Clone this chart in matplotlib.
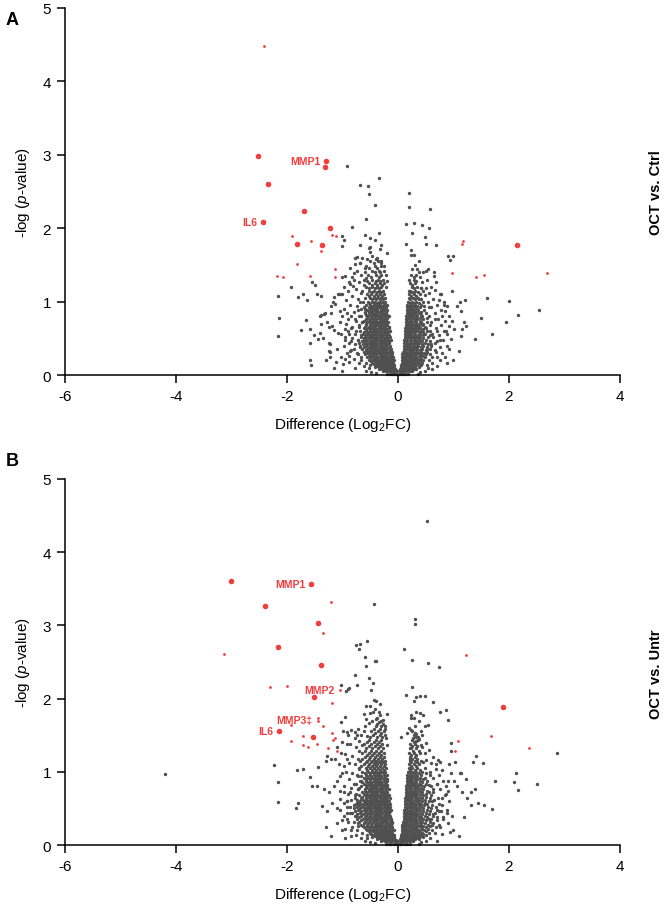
import numpy as np
import matplotlib.pyplot as plt

plt.rcParams['font.family'] = ['Liberation Sans', 'DejaVu Sans']
plt.rcParams['mathtext.fontset'] = 'custom'
plt.rcParams['mathtext.rm'] = 'Liberation Sans'
plt.rcParams['mathtext.it'] = 'Liberation Sans:italic'
plt.rcParams['mathtext.default'] = 'regular'
plt.rcParams['axes.unicode_minus'] = False

GREY = '#505050'
RED = '#f23d3d'

# ---------------- panel A : OCT vs. Ctrl ----------------
# dense core, one row per -log(p) level: (y, x values)
coreA = [
    (0.02, [-0.20, -0.15, -0.11, -0.07, -0.03, 0.01, 0.05, 0.09, 0.13, 0.18]),
    (0.05, [-0.27, -0.22, -0.17, -0.13, -0.09, -0.05, -0.01, 0.03, 0.07, 0.11, 0.16, 0.21, 0.26]),
    (0.08, [-0.34, -0.28, -0.23, -0.18, -0.14, -0.10, -0.06, 0.04, 0.08, 0.12, 0.17, 0.22, 0.28, 0.33]),
    (0.11, [-0.42, -0.35, -0.29, -0.24, -0.19, -0.15, -0.11, -0.07, 0.05, 0.09, 0.14, 0.19, 0.25, 0.31, 0.38]),
    (0.14, [-0.50, -0.41, -0.35, -0.30, -0.25, -0.20, -0.16, -0.12, -0.08, 0.06, 0.10, 0.15, 0.21, 0.27, 0.33, 0.41, 0.52]),
    (0.17, [-0.58, -0.46, -0.40, -0.34, -0.29, -0.24, -0.19, -0.14, -0.09, 0.07, 0.12, 0.17, 0.23, 0.29, 0.36, 0.44]),
    (0.20, [-0.66, -0.52, -0.45, -0.39, -0.33, -0.28, -0.22, -0.17, -0.12, -0.08, 0.07, 0.12, 0.18, 0.24, 0.30, 0.37, 0.45, 0.56]),
    (0.24, [-0.55, -0.48, -0.42, -0.36, -0.30, -0.25, -0.19, -0.14, -0.09, 0.08, 0.13, 0.19, 0.25, 0.32, 0.39, 0.48, 0.62]),
    (0.28, [-0.72, -0.59, -0.51, -0.45, -0.39, -0.33, -0.27, -0.21, -0.15, -0.10, 0.08, 0.14, 0.20, 0.26, 0.33, 0.41, 0.50]),
    (0.32, [-0.62, -0.54, -0.47, -0.41, -0.35, -0.29, -0.23, -0.17, -0.11, 0.09, 0.15, 0.21, 0.27, 0.34, 0.42, 0.53, 0.68]),
    (0.36, [-0.80, -0.65, -0.56, -0.49, -0.43, -0.37, -0.31, -0.25, -0.19, -0.13, 0.10, 0.16, 0.22, 0.28, 0.35, 0.44, 0.57]),
    (0.40, [-0.68, -0.58, -0.51, -0.45, -0.39, -0.33, -0.27, -0.21, -0.15, 0.10, 0.16, 0.22, 0.29, 0.36, 0.45, 0.60]),
    (0.44, [-0.88, -0.70, -0.60, -0.53, -0.47, -0.41, -0.35, -0.29, -0.23, -0.17, 0.11, 0.17, 0.23, 0.30, 0.38, 0.48, 0.66]),
    (0.48, [-0.72, -0.62, -0.55, -0.49, -0.43, -0.37, -0.31, -0.25, -0.19, -0.13, 0.11, 0.17, 0.24, 0.31, 0.39, 0.51, 0.75]),
    (0.52, [-0.95, -0.66, -0.57, -0.51, -0.45, -0.39, -0.33, -0.27, -0.21, -0.15, 0.12, 0.18, 0.25, 0.32, 0.40, 0.54]),
    (0.56, [-0.78, -0.63, -0.55, -0.49, -0.43, -0.37, -0.31, -0.25, -0.19, 0.12, 0.18, 0.24, 0.31, 0.39, 0.48, 0.62]),
    (0.60, [-0.68, -0.58, -0.51, -0.45, -0.39, -0.33, -0.27, -0.21, -0.15, 0.13, 0.19, 0.26, 0.33, 0.41, 0.52, 0.70]),
    (0.64, [-0.84, -0.62, -0.54, -0.47, -0.41, -0.35, -0.29, -0.23, -0.17, 0.13, 0.19, 0.25, 0.32, 0.40, 0.50]),
    (0.68, [-0.70, -0.57, -0.50, -0.44, -0.38, -0.32, -0.26, -0.20, 0.14, 0.20, 0.27, 0.34, 0.43, 0.58]),
    (0.72, [-0.64, -0.55, -0.48, -0.42, -0.36, -0.30, -0.24, -0.18, 0.14, 0.20, 0.26, 0.33, 0.41, 0.52]),
    (0.76, [-0.78, -0.58, -0.51, -0.45, -0.39, -0.33, -0.27, -0.21, 0.15, 0.21, 0.28, 0.35, 0.46, 0.66]),
    (0.80, [-0.66, -0.54, -0.47, -0.41, -0.35, -0.29, -0.23, -0.17, 0.15, 0.21, 0.27, 0.35, 0.44]),
    (0.84, [-0.60, -0.52, -0.45, -0.39, -0.33, -0.27, -0.21, 0.16, 0.22, 0.29, 0.37, 0.50]),
    (0.88, [-0.72, -0.56, -0.49, -0.43, -0.37, -0.31, -0.25, -0.19, 0.16, 0.22, 0.28, 0.36, 0.47]),
    (0.92, [-0.62, -0.53, -0.46, -0.40, -0.34, -0.28, -0.22, 0.17, 0.23, 0.30, 0.39, 0.56]),
    (0.96, [-0.57, -0.50, -0.44, -0.38, -0.32, -0.26, -0.20, 0.17, 0.24, 0.31, 0.42]),
    (1.00, [-0.68, -0.54, -0.47, -0.41, -0.35, -0.29, -0.23, 0.18, 0.25, 0.33, 0.45]),
    (1.05, [-0.60, -0.51, -0.44, -0.37, -0.30, -0.24, 0.19, 0.27, 0.36]),
    (1.10, [-0.56, -0.48, -0.40, -0.33, -0.26, 0.20, 0.29, 0.40]),
    (1.15, [-0.64, -0.52, -0.43, -0.35, -0.27, 0.22, 0.31]),
    (1.20, [-0.58, -0.47, -0.38, -0.30, -0.22, 0.25, 0.35]),
    (1.25, [-0.52, -0.42, -0.33, -0.25, 0.21, 0.30]),
    (1.30, [-0.61, -0.46, -0.36, -0.27, 0.28]),
    (1.36, [-0.54, -0.40, -0.30, 0.24, 0.33]),
    (1.42, [-0.47, -0.35, -0.26]),
    (1.48, [-0.58, -0.41, -0.31]),
    (1.55, [-0.50, -0.36]),
]
# in-between rows that fill the darkest part of the core
fillA = [
    (0.065, [-0.25, -0.20, -0.16, -0.12, -0.08, -0.04, 0.05, 0.09, 0.14, 0.19, 0.24]),
    (0.095, [-0.31, -0.26, -0.21, -0.16, -0.12, -0.08, 0.06, 0.10, 0.15, 0.20, 0.26]),
    (0.125, [-0.38, -0.32, -0.27, -0.22, -0.17, -0.13, -0.09, 0.07, 0.12, 0.17, 0.23, 0.29]),
    (0.155, [-0.44, -0.37, -0.32, -0.27, -0.22, -0.18, -0.14, -0.10, 0.08, 0.13, 0.18, 0.24, 0.30, 0.37]),
    (0.185, [-0.48, -0.42, -0.37, -0.31, -0.26, -0.21, -0.16, -0.11, 0.09, 0.14, 0.20, 0.26, 0.33, 0.40]),
    (0.22, [-0.50, -0.43, -0.37, -0.31, -0.25, -0.20, -0.14, -0.10, 0.10, 0.15, 0.21, 0.28, 0.35, 0.42]),
    (0.26, [-0.52, -0.45, -0.39, -0.33, -0.28, -0.23, -0.17, -0.12, 0.11, 0.17, 0.23, 0.29, 0.37, 0.45]),
    (0.30, [-0.55, -0.48, -0.42, -0.36, -0.30, -0.25, -0.19, -0.13, 0.12, 0.18, 0.24, 0.31, 0.38, 0.47]),
    (0.34, [-0.58, -0.51, -0.44, -0.38, -0.32, -0.27, -0.21, -0.15, 0.12, 0.19, 0.25, 0.32, 0.40, 0.50]),
    (0.38, [-0.61, -0.53, -0.47, -0.41, -0.35, -0.29, -0.23, -0.17, 0.13, 0.19, 0.26, 0.33, 0.41, 0.52]),
    (0.42, [-0.63, -0.55, -0.49, -0.43, -0.37, -0.31, -0.25, -0.19, 0.14, 0.20, 0.27, 0.34, 0.43, 0.55]),
    (0.46, [-0.65, -0.58, -0.51, -0.45, -0.39, -0.33, -0.27, -0.21, -0.16, 0.14, 0.21, 0.28, 0.35, 0.44, 0.57]),
    (0.50, [-0.62, -0.54, -0.48, -0.42, -0.36, -0.30, -0.24, -0.18, 0.15, 0.21, 0.28, 0.36, 0.46]),
    (0.54, [-0.60, -0.53, -0.46, -0.40, -0.34, -0.28, -0.22, -0.16, 0.15, 0.22, 0.28, 0.36, 0.45, 0.57]),
    (0.58, [-0.62, -0.54, -0.48, -0.42, -0.36, -0.30, -0.24, -0.18, 0.16, 0.22, 0.29, 0.37, 0.46]),
    (0.62, [-0.58, -0.50, -0.44, -0.38, -0.32, -0.26, -0.20, 0.16, 0.22, 0.29, 0.36, 0.45]),
    (0.66, [-0.60, -0.53, -0.47, -0.41, -0.35, -0.29, -0.23, -0.17, 0.17, 0.23, 0.30, 0.38, 0.48]),
    (0.70, [-0.58, -0.51, -0.45, -0.39, -0.33, -0.27, -0.21, 0.17, 0.23, 0.30, 0.37, 0.46]),
    (0.74, [-0.61, -0.52, -0.45, -0.39, -0.33, -0.27, -0.21, 0.17, 0.24, 0.31, 0.39]),
    (0.78, [-0.55, -0.48, -0.42, -0.36, -0.30, -0.24, -0.19, 0.18, 0.24, 0.31, 0.40, 0.53]),
    (0.82, [-0.57, -0.49, -0.43, -0.37, -0.31, -0.25, -0.19, 0.18, 0.25, 0.32, 0.41]),
    (0.86, [-0.53, -0.46, -0.40, -0.34, -0.28, -0.22, 0.19, 0.25, 0.33, 0.42]),
    (0.90, [-0.59, -0.50, -0.43, -0.37, -0.31, -0.25, 0.19, 0.26, 0.34]),
    (0.94, [-0.48, -0.41, -0.35, -0.29, -0.23, 0.20, 0.27, 0.35, 0.47]),
    (0.98, [-0.52, -0.44, -0.38, -0.32, -0.26, 0.21, 0.28, 0.38]),
    (1.03, [-0.47, -0.40, -0.33, -0.27, 0.22, 0.30, 0.41]),
    (1.08, [-0.52, -0.44, -0.36, -0.29, 0.23, 0.33]),
    (1.13, [-0.46, -0.38, -0.31, 0.25, 0.36]),
    (1.18, [-0.53, -0.42, -0.34, 0.28, 0.42]),
    (1.23, [-0.46, -0.37, -0.29, 0.26]),
    (1.28, [-0.55, -0.40, -0.32, 0.33]),
    (1.33, [-0.49, -0.35, 0.29]),
    (1.40, [-0.60, -0.42, -0.32, 0.38]),
    (1.46, [-0.52, -0.37]),
    (1.52, [-0.44, -0.30]),
    (1.58, [-0.40]),
]
# looser points on the flanks of the two lobes
flankA = [
    (-0.62, 0.12), (-0.70, 0.16), (-0.78, 0.10), (-0.66, 0.25), (-0.80, 0.22), (-0.88, 0.18),
    (-0.74, 0.30), (-0.84, 0.34), (-0.68, 0.38), (-0.77, 0.42), (-0.92, 0.30), (-0.72, 0.47),
    (-0.82, 0.50), (-0.66, 0.54), (-0.88, 0.56), (-0.75, 0.60), (-0.70, 0.66), (-0.82, 0.66),
    (-0.64, 0.72), (-0.76, 0.74), (-0.90, 0.76), (-0.70, 0.80), (-0.80, 0.86), (-0.66, 0.90),
    (-0.74, 0.94), (-0.86, 0.96), (-0.63, 0.99), (-0.72, 1.04), (-0.82, 1.08), (-0.66, 1.12),
    (-0.75, 1.17), (-0.90, 1.14), (-0.62, 1.22), (-0.70, 1.27), (-0.80, 1.30), (-0.66, 1.36),
    (-0.74, 1.42), (-0.60, 1.46), (-0.68, 1.52), (-0.56, 1.58), (-0.46, 1.62), (-0.38, 1.60),
    (-0.30, 1.55), (-0.25, 1.48), (-0.22, 1.36), (-0.20, 1.28), (-0.58, 0.06), (-0.48, 0.04),
    (-0.40, 0.03), (-0.52, 0.09), (-0.95, 0.62), (-0.98, 0.90), (-0.93, 1.02), (-0.84, 0.46),
    (-0.60, 0.86), (-0.58, 1.32), (-0.86, 1.46), (-0.97, 1.20),
    (0.55, 0.10), (0.62, 0.16), (0.70, 0.24), (0.58, 0.28), (0.66, 0.34), (0.76, 0.38),
    (0.60, 0.42), (0.70, 0.46), (0.82, 0.48), (0.64, 0.52), (0.74, 0.55), (0.58, 0.60),
    (0.68, 0.64), (0.78, 0.68), (0.60, 0.72), (0.72, 0.76), (0.84, 0.74), (0.56, 0.80),
    (0.66, 0.84), (0.78, 0.88), (0.60, 0.92), (0.70, 0.96), (0.54, 1.00), (0.64, 1.04),
    (0.56, 1.12), (0.46, 1.14), (0.60, 1.20), (0.44, 1.26), (0.52, 1.30), (0.40, 1.34),
    (0.46, 1.40), (0.35, 1.45), (0.30, 1.50), (0.38, 1.55), (0.25, 1.44), (0.20, 1.30),
    (0.20, 1.15), (0.48, 0.06), (0.40, 0.04), (0.36, 0.02), (0.86, 0.60), (0.80, 0.80),
    (0.74, 1.02), (0.66, 1.16), (0.52, 0.36), (0.88, 0.16), (0.92, 0.36),
]
# scattered grey points outside the core
greyA = [
    (-0.92, 2.85), (-0.34, 2.69), (-0.69, 2.59), (-0.54, 2.57), (-0.53, 2.46), (0.20, 2.48),
    (0.20, 2.29), (-0.41, 2.31), (0.57, 2.26), (-0.57, 2.13), (-0.83, 2.01), (0.14, 2.06),
    (0.28, 2.07), (0.44, 2.05), (0.56, 2.00), (-0.35, 1.94), (-0.60, 1.91), (0.26, 1.93),
    (-1.00, 1.89), (-0.97, 1.84), (-0.50, 1.87), (-0.42, 1.84), (0.49, 1.88), (0.50, 1.79),
    (-0.68, 1.77), (-0.50, 1.75), (0.14, 1.78), (0.69, 1.77), (-0.30, 1.77), (-0.33, 1.72),
    (0.23, 1.70), (0.23, 1.64), (0.29, 1.64), (-0.19, 1.66), (-0.52, 1.73), (-0.50, 1.68),
    (0.90, 1.62), (0.93, 1.57), (-1.00, 1.76),
    (-1.55, 1.27), (-1.49, 1.22), (-1.92, 1.20), (-2.17, 1.08), (-1.81, 1.06), (-1.71, 1.10),
    (-1.64, 1.02), (-1.46, 1.10), (-1.38, 1.08), (-2.14, 0.77), (-1.65, 0.75), (-1.40, 0.80),
    (-1.33, 0.83), (-1.38, 0.70), (-1.74, 0.61), (-1.58, 0.63), (-1.51, 0.55), (-1.44, 0.49),
    (-2.17, 0.53), (-1.58, 0.44), (-1.25, 0.65), (-1.25, 0.43), (-1.23, 0.31), (-1.58, 0.21),
    (-1.20, 0.94), (-1.17, 1.00), (-1.13, 0.97), (-1.16, 1.06), (-1.08, 1.10), (-1.04, 1.10),
    (-1.00, 1.11), (-1.00, 1.33), (-0.96, 1.35), (-0.89, 1.26), (-0.86, 1.24), (-0.81, 1.21),
    (-0.83, 1.34), (-0.80, 1.39), (-0.78, 1.59), (-0.73, 1.61), (-0.65, 1.60), (-0.77, 1.51),
    (-0.69, 1.53), (-1.38, 0.82), (-1.31, 0.84), (-1.20, 0.84), (-1.05, 0.87), (-1.01, 0.81),
    (-0.92, 0.84), (-0.84, 0.81), (-1.28, 0.72), (-1.19, 0.67), (-1.16, 0.61), (-1.08, 0.57),
    (-1.41, 0.57), (-1.35, 0.50), (-1.22, 0.42), (-1.25, 0.33), (-1.23, 0.24), (-0.99, 0.15),
    (-0.95, 0.22), (-0.89, 0.26), (-0.86, 0.33), (-1.03, 0.56), (-0.95, 0.48), (-0.90, 0.60),
    (-1.10, 0.35), (-1.05, 0.72), (-0.93, 0.70), (-0.97, 0.40), (-1.12, 0.18), (-1.00, 0.06),
    (-1.56, 0.14), (-1.30, 0.20), (-1.15, 0.10), (-1.02, 0.25),
    (0.99, 1.62), (0.98, 1.15), (1.11, 1.00), (1.20, 1.02), (1.07, 0.94), (1.60, 1.05),
    (2.00, 1.01), (2.54, 0.89), (2.17, 0.82), (1.49, 0.77), (1.94, 0.72), (1.70, 0.56),
    (1.38, 0.49), (1.13, 0.87), (1.19, 0.72), (1.23, 0.67), (1.16, 0.62), (1.13, 0.53),
    (1.10, 0.33), (0.89, 0.94), (0.83, 0.99), (0.84, 0.87), (0.92, 0.81), (0.98, 0.74),
    (0.92, 0.67), (0.83, 0.60), (0.89, 0.56), (0.95, 0.49), (0.89, 0.40), (1.01, 0.62),
    (0.69, 1.26), (0.75, 1.11), (0.78, 1.10), (0.83, 0.96), (0.65, 1.40), (0.65, 1.35),
    (0.55, 1.44), (0.51, 1.42), (0.48, 1.09), (0.51, 1.19), (0.42, 1.18), (0.38, 1.03),
    (0.80, 0.30), (0.75, 0.20), (0.70, 0.12), (0.85, 0.25), (1.00, 0.20), (0.62, 0.08),
]
redA_big = [(-2.52, 2.98), (-1.29, 2.92), (-1.32, 2.84), (-2.34, 2.60), (-1.69, 2.24),
            (-2.44, 2.09), (-1.22, 2.00), (-1.82, 1.78), (-1.37, 1.77), (2.15, 1.77)]
redA_small = [(-2.42, 4.48), (-1.91, 1.90), (-1.56, 1.82), (-1.19, 1.91), (-1.12, 1.89),
              (-1.38, 1.69), (-1.82, 1.51), (-2.18, 1.35), (-2.08, 1.33), (-1.58, 1.35),
              (-1.13, 1.44), (-1.13, 1.34), (1.17, 1.83), (1.16, 1.79), (0.98, 1.39),
              (1.40, 1.34), (1.55, 1.36), (2.68, 1.39)]
labelsA = [('MMP1', -1.29, 2.92), ('IL6', -2.44, 2.09)]

# ---------------- panel B : OCT vs. Untr ----------------
coreB = [
    (0.02, [-0.22, -0.17, -0.12, -0.08, -0.04, 0.00, 0.04, 0.08, 0.12, 0.17, 0.22]),
    (0.05, [-0.30, -0.24, -0.19, -0.14, -0.10, -0.06, -0.02, 0.03, 0.07, 0.11, 0.16, 0.21, 0.27]),
    (0.08, [-0.38, -0.31, -0.25, -0.20, -0.15, -0.11, -0.07, 0.04, 0.08, 0.13, 0.18, 0.24, 0.30, 0.37]),
    (0.11, [-0.46, -0.38, -0.31, -0.26, -0.21, -0.16, -0.12, -0.08, 0.05, 0.09, 0.14, 0.19, 0.25, 0.31, 0.38, 0.46]),
    (0.14, [-0.55, -0.45, -0.37, -0.31, -0.26, -0.21, -0.16, -0.12, -0.08, 0.06, 0.10, 0.15, 0.21, 0.27, 0.33, 0.40, 0.50]),
    (0.17, [-0.64, -0.50, -0.42, -0.36, -0.30, -0.25, -0.20, -0.15, -0.10, 0.07, 0.12, 0.17, 0.23, 0.29, 0.36, 0.44, 0.56]),
    (0.20, [-0.74, -0.56, -0.47, -0.40, -0.34, -0.28, -0.23, -0.18, -0.13, -0.08, 0.07, 0.12, 0.18, 0.24, 0.31, 0.38, 0.47, 0.62]),
    (0.24, [-0.82, -0.61, -0.52, -0.45, -0.38, -0.32, -0.26, -0.21, -0.15, -0.10, 0.08, 0.13, 0.19, 0.26, 0.33, 0.41, 0.51, 0.68]),
    (0.28, [-0.66, -0.56, -0.49, -0.42, -0.36, -0.30, -0.24, -0.18, -0.12, 0.08, 0.14, 0.20, 0.27, 0.34, 0.42, 0.54, 0.74]),
    (0.32, [-0.90, -0.70, -0.60, -0.52, -0.45, -0.39, -0.33, -0.27, -0.21, -0.15, -0.10, 0.09, 0.15, 0.21, 0.28, 0.35, 0.44, 0.57]),
    (0.36, [-0.74, -0.63, -0.55, -0.48, -0.42, -0.36, -0.30, -0.24, -0.18, -0.12, 0.10, 0.16, 0.22, 0.29, 0.37, 0.46, 0.60, 0.82]),
    (0.40, [-0.98, -0.78, -0.66, -0.58, -0.51, -0.44, -0.38, -0.32, -0.26, -0.20, -0.14, 0.10, 0.16, 0.23, 0.30, 0.38, 0.48, 0.63]),
    (0.44, [-0.82, -0.69, -0.60, -0.53, -0.46, -0.40, -0.34, -0.28, -0.22, -0.16, 0.11, 0.17, 0.24, 0.31, 0.39, 0.50, 0.66, 0.88]),
    (0.48, [-1.05, -0.72, -0.62, -0.55, -0.48, -0.42, -0.36, -0.30, -0.24, -0.18, -0.12, 0.11, 0.17, 0.24, 0.32, 0.40, 0.52, 0.70]),
    (0.52, [-0.86, -0.74, -0.64, -0.56, -0.50, -0.44, -0.38, -0.32, -0.26, -0.20, -0.14, 0.12, 0.18, 0.25, 0.33, 0.42, 0.55]),
    (0.56, [-0.76, -0.66, -0.58, -0.51, -0.45, -0.39, -0.33, -0.27, -0.21, -0.15, 0.12, 0.18, 0.25, 0.33, 0.42, 0.53, 0.74]),
    (0.60, [-0.92, -0.68, -0.59, -0.52, -0.46, -0.40, -0.34, -0.28, -0.22, -0.16, 0.13, 0.19, 0.26, 0.34, 0.43, 0.56]),
    (0.64, [-0.78, -0.66, -0.58, -0.51, -0.45, -0.39, -0.33, -0.27, -0.21, -0.15, 0.13, 0.19, 0.26, 0.34, 0.44, 0.58, 0.80]),
    (0.68, [-0.70, -0.60, -0.53, -0.47, -0.41, -0.35, -0.29, -0.23, -0.17, 0.14, 0.20, 0.27, 0.35, 0.45, 0.60]),
    (0.72, [-0.86, -0.64, -0.56, -0.49, -0.43, -0.37, -0.31, -0.25, -0.19, 0.14, 0.20, 0.27, 0.35, 0.44, 0.56]),
    (0.76, [-0.72, -0.59, -0.52, -0.46, -0.40, -0.34, -0.28, -0.22, -0.16, 0.15, 0.21, 0.28, 0.36, 0.46, 0.64]),
    (0.80, [-0.66, -0.56, -0.49, -0.43, -0.37, -0.31, -0.25, -0.19, 0.15, 0.21, 0.28, 0.36, 0.47]),
    (0.84, [-0.80, -0.61, -0.53, -0.46, -0.40, -0.34, -0.28, -0.22, 0.16, 0.22, 0.29, 0.38, 0.50, 0.70]),
    (0.88, [-0.68, -0.57, -0.50, -0.44, -0.38, -0.32, -0.26, -0.20, 0.16, 0.22, 0.30, 0.39, 0.52]),
    (0.92, [-0.62, -0.54, -0.47, -0.41, -0.35, -0.29, -0.23, 0.17, 0.23, 0.30, 0.39, 0.49]),
    (0.96, [-0.74, -0.58, -0.50, -0.44, -0.38, -0.32, -0.26, -0.20, 0.17, 0.24, 0.32, 0.42, 0.58]),
    (1.00, [-0.64, -0.54, -0.47, -0.41, -0.35, -0.29, -0.23, 0.18, 0.25, 0.33, 0.44]),
    (1.05, [-0.70, -0.58, -0.50, -0.43, -0.36, -0.29, -0.22, 0.19, 0.26, 0.35, 0.48]),
    (1.10, [-0.62, -0.52, -0.44, -0.37, -0.30, -0.23, 0.20, 0.28, 0.38]),
    (1.15, [-0.68, -0.56, -0.47, -0.39, -0.31, -0.24, 0.21, 0.30, 0.42]),
    (1.20, [-0.60, -0.50, -0.41, -0.33, -0.25, 0.22, 0.31]),
    (1.26, [-0.65, -0.53, -0.43, -0.34, -0.26, 0.20, 0.29, 0.40]),
    (1.32, [-0.57, -0.46, -0.36, -0.27, 0.24, 0.33]),
    (1.38, [-0.61, -0.48, -0.38, -0.29, 0.22, 0.31]),
    (1.44, [-0.52, -0.40, -0.30, 0.26, 0.36]),
    (1.50, [-0.45, -0.33, -0.24, 0.28]),
    (1.56, [-0.48, -0.36, -0.25, 0.25]),
    (1.62, [-0.40, -0.30]),
    (1.68, [-0.34]),
]
fillB = [
    (0.065, [-0.27, -0.21, -0.17, -0.12, -0.08, -0.04, 0.05, 0.09, 0.14, 0.19, 0.25]),
    (0.095, [-0.34, -0.28, -0.22, -0.17, -0.13, -0.09, 0.06, 0.10, 0.16, 0.21, 0.27, 0.33]),
    (0.125, [-0.42, -0.34, -0.28, -0.23, -0.18, -0.14, -0.10, 0.07, 0.12, 0.17, 0.22, 0.28, 0.35, 0.42]),
    (0.155, [-0.48, -0.40, -0.34, -0.28, -0.23, -0.18, -0.14, -0.10, 0.08, 0.13, 0.18, 0.24, 0.30, 0.37, 0.45]),
    (0.185, [-0.53, -0.45, -0.39, -0.33, -0.27, -0.22, -0.17, -0.12, 0.09, 0.14, 0.20, 0.26, 0.33, 0.40, 0.50]),
    (0.22, [-0.58, -0.50, -0.43, -0.37, -0.31, -0.25, -0.20, -0.15, -0.11, 0.10, 0.15, 0.21, 0.28, 0.35, 0.43, 0.54]),
    (0.26, [-0.63, -0.55, -0.48, -0.41, -0.35, -0.29, -0.23, -0.18, -0.13, 0.11, 0.16, 0.22, 0.29, 0.37, 0.46, 0.58]),
    (0.30, [-0.72, -0.62, -0.54, -0.47, -0.40, -0.34, -0.28, -0.22, -0.16, -0.11, 0.11, 0.17, 0.24, 0.31, 0.39, 0.48, 0.63]),
    (0.34, [-0.66, -0.57, -0.50, -0.43, -0.37, -0.31, -0.25, -0.19, -0.13, 0.12, 0.18, 0.25, 0.32, 0.40, 0.50]),
    (0.38, [-0.70, -0.60, -0.52, -0.45, -0.39, -0.33, -0.27, -0.21, -0.15, 0.13, 0.19, 0.26, 0.33, 0.42, 0.53, 0.70]),
    (0.42, [-0.73, -0.63, -0.55, -0.48, -0.42, -0.36, -0.30, -0.24, -0.18, 0.13, 0.19, 0.27, 0.34, 0.43, 0.56]),
    (0.46, [-0.77, -0.66, -0.57, -0.50, -0.44, -0.38, -0.32, -0.26, -0.20, -0.14, 0.14, 0.20, 0.27, 0.35, 0.45, 0.58, 0.78]),
    (0.50, [-0.68, -0.59, -0.52, -0.46, -0.40, -0.34, -0.28, -0.22, -0.16, 0.14, 0.21, 0.28, 0.36, 0.46, 0.60]),
    (0.54, [-0.80, -0.70, -0.61, -0.54, -0.48, -0.42, -0.36, -0.30, -0.24, -0.18, 0.15, 0.21, 0.29, 0.37, 0.47, 0.62]),
    (0.58, [-0.72, -0.62, -0.55, -0.49, -0.43, -0.37, -0.31, -0.25, -0.19, 0.15, 0.22, 0.29, 0.37, 0.48]),
    (0.62, [-0.73, -0.63, -0.56, -0.49, -0.43, -0.37, -0.31, -0.25, -0.19, 0.16, 0.22, 0.30, 0.38, 0.49, 0.65]),
    (0.66, [-0.64, -0.56, -0.50, -0.44, -0.38, -0.32, -0.26, -0.20, 0.16, 0.23, 0.30, 0.39, 0.50]),
    (0.70, [-0.76, -0.62, -0.55, -0.49, -0.43, -0.37, -0.31, -0.25, -0.19, 0.17, 0.23, 0.31, 0.39, 0.50]),
    (0.74, [-0.60, -0.53, -0.47, -0.41, -0.35, -0.29, -0.23, 0.17, 0.24, 0.31, 0.40, 0.52]),
    (0.78, [-0.70, -0.58, -0.51, -0.45, -0.39, -0.33, -0.27, -0.21, 0.18, 0.24, 0.32, 0.41]),
    (0.82, [-0.57, -0.50, -0.44, -0.38, -0.32, -0.26, -0.20, 0.18, 0.25, 0.32, 0.42, 0.56]),
    (0.86, [-0.64, -0.55, -0.48, -0.42, -0.36, -0.30, -0.24, 0.19, 0.25, 0.33, 0.43]),
    (0.90, [-0.58, -0.51, -0.44, -0.38, -0.32, -0.26, -0.20, 0.19, 0.26, 0.34, 0.45]),
    (0.94, [-0.66, -0.55, -0.48, -0.42, -0.36, -0.30, -0.24, 0.20, 0.27, 0.35]),
    (0.98, [-0.60, -0.51, -0.44, -0.38, -0.32, -0.26, 0.21, 0.28, 0.37, 0.50]),
    (1.03, [-0.55, -0.47, -0.40, -0.33, -0.26, 0.22, 0.30, 0.40]),
    (1.08, [-0.66, -0.54, -0.46, -0.39, -0.32, -0.25, 0.23, 0.32]),
    (1.13, [-0.58, -0.49, -0.41, -0.34, -0.27, 0.24, 0.34, 0.46]),
    (1.18, [-0.64, -0.53, -0.44, -0.36, -0.28, 0.26, 0.35]),
    (1.23, [-0.56, -0.47, -0.38, -0.30, 0.24, 0.33]),
    (1.29, [-0.60, -0.49, -0.39, -0.31, 0.27, 0.37]),
    (1.35, [-0.52, -0.42, -0.33, 0.26, 0.35]),
    (1.41, [-0.56, -0.44, -0.34, 0.29]),
    (1.47, [-0.50, -0.38, -0.28, 0.32]),
    (1.53, [-0.42, -0.31, 0.30]),
    (1.59, [-0.44, -0.33]),
    (1.65, [-0.37, -0.27]),
    (1.72, [-0.40]),
]
flankB = [
    (-0.66, 0.10), (-0.75, 0.14), (-0.85, 0.12), (-0.72, 0.26), (-0.84, 0.20), (-0.95, 0.22),
    (-0.80, 0.32), (-0.92, 0.36), (-0.76, 0.40), (-0.86, 0.44), (-1.00, 0.34), (-0.80, 0.50),
    (-0.92, 0.52), (-0.74, 0.58), (-0.98, 0.58), (-0.84, 0.62), (-0.78, 0.68), (-0.90, 0.70),
    (-0.72, 0.76), (-0.84, 0.78), (-0.98, 0.80), (-0.76, 0.84), (-0.88, 0.90), (-0.72, 0.94),
    (-0.82, 0.98), (-0.94, 1.00), (-0.70, 1.04), (-0.78, 1.10), (-0.88, 1.12), (-0.72, 1.18),
    (-0.82, 1.22), (-0.96, 1.24), (-0.70, 1.28), (-0.76, 1.34), (-0.86, 1.38), (-0.70, 1.42),
    (-0.78, 1.46), (-0.66, 1.50), (-0.72, 1.58), (-0.60, 1.62), (-0.52, 1.66), (-0.46, 1.70),
    (-0.38, 1.74), (-0.30, 1.70), (-0.24, 1.58), (-0.21, 1.46), (-0.20, 1.36), (-0.60, 0.06),
    (-0.50, 0.04), (-0.42, 0.03), (-0.55, 0.09), (-1.04, 0.74), (-1.05, 0.94), (-1.02, 1.26),
    (-0.92, 0.60), (-0.66, 0.88), (-0.64, 1.36), (-0.90, 1.50), (-0.58, 1.72), (-0.50, 1.80),
    (-0.42, 1.86), (-0.34, 1.82),
    (0.58, 0.10), (0.66, 0.16), (0.76, 0.24), (0.62, 0.28), (0.70, 0.34), (0.82, 0.38),
    (0.64, 0.42), (0.74, 0.46), (0.88, 0.48), (0.68, 0.52), (0.80, 0.55), (0.62, 0.60),
    (0.72, 0.64), (0.84, 0.68), (0.64, 0.72), (0.76, 0.76), (0.90, 0.74), (0.60, 0.80),
    (0.70, 0.84), (0.82, 0.88), (0.64, 0.92), (0.74, 0.96), (0.58, 1.00), (0.68, 1.04),
    (0.60, 1.12), (0.50, 1.16), (0.64, 1.20), (0.48, 1.26), (0.56, 1.30), (0.44, 1.34),
    (0.50, 1.40), (0.38, 1.45), (0.33, 1.52), (0.42, 1.56), (0.27, 1.46), (0.22, 1.32),
    (0.22, 1.18), (0.50, 0.06), (0.42, 0.04), (0.38, 0.02), (0.92, 0.60), (0.86, 0.80),
    (0.80, 1.02), (0.72, 1.16), (0.56, 0.36), (0.94, 0.18), (0.98, 0.40), (0.30, 1.62),
    (0.20, 1.60), (0.48, 1.62),
]
greyB = [
    (0.52, 4.43), (-0.44, 3.29), (0.30, 3.09), (0.30, 3.02), (-0.75, 2.73), (-0.69, 2.74),
    (-0.71, 2.68), (-0.56, 2.79), (0.10, 2.68), (-0.60, 2.57), (-0.42, 2.51), (-0.39, 2.51),
    (0.26, 2.52), (0.55, 2.48), (0.74, 2.43), (-0.57, 2.44), (-0.77, 2.32), (-0.53, 2.28),
    (-0.45, 2.21), (-0.74, 2.18), (-1.02, 2.19), (-0.90, 2.13), (-0.93, 2.11), (-0.89, 2.15),
    (-0.48, 2.12), (0.26, 2.16), (0.15, 2.05), (0.32, 2.02), (0.39, 2.03), (0.48, 2.03),
    (0.28, 1.96), (0.63, 1.95), (-0.44, 1.98), (-0.40, 1.97), (-0.57, 1.90), (-0.51, 1.90),
    (-0.32, 1.92), (0.75, 1.82), (0.86, 1.85), (0.90, 1.71), (-0.95, 1.75), (-1.02, 1.68),
    (-0.62, 1.79), (-0.45, 1.81), (-0.32, 1.78), (-0.19, 1.79), (-0.27, 1.71), (-0.23, 1.63),
    (0.24, 1.77), (0.32, 1.81), (0.39, 1.80), (0.45, 1.77), (0.38, 1.69), (0.28, 1.73),
    (0.23, 1.74), (0.54, 1.64), (-0.84, 1.57), (-0.77, 1.55), (-0.74, 1.50), (-0.62, 1.56),
    (-0.55, 1.49), (0.06, 1.47), (0.17, 1.53), (0.23, 1.57), (0.36, 1.48), (0.44, 1.50),
    (0.41, 1.36), (0.33, 1.42), (0.95, 1.39), (0.96, 1.28), (1.02, 1.13), (0.92, 1.11),
    (1.14, 0.99), (0.75, 1.14), (0.68, 1.10), (1.35, 1.14), (1.40, 1.21), (1.54, 1.12),
    (2.12, 0.99), (2.09, 0.86), (2.16, 0.75), (1.75, 0.88), (2.51, 0.83), (2.86, 1.25),
    (1.38, 0.76), (1.31, 0.72), (1.45, 0.58), (1.55, 0.55), (1.25, 0.64), (1.32, 0.54),
    (1.69, 0.49), (1.19, 0.38), (1.11, 0.98), (1.22, 0.90), (1.07, 0.81), (1.16, 0.72),
    (1.01, 0.88), (0.95, 0.99), (0.90, 0.88), (0.86, 0.70), (0.90, 0.30), (1.00, 0.20),
    (0.80, 0.15), (1.10, 0.12), (0.70, 0.05),
    (-0.99, 1.56), (-0.91, 1.55), (-1.00, 1.41), (-0.92, 1.38), (-1.09, 1.34), (-1.28, 1.22),
    (-1.29, 1.15), (-1.20, 1.18), (-2.24, 1.09), (-1.82, 1.02), (-1.72, 1.04), (-1.44, 1.06),
    (-1.13, 1.17), (-1.07, 1.11), (-0.98, 1.08), (-0.92, 1.17), (-1.01, 0.99), (-1.58, 0.93),
    (-2.16, 0.86), (-1.55, 0.81), (-1.46, 0.81), (-1.34, 0.76), (-1.25, 0.72), (-1.16, 0.81),
    (-1.10, 0.88), (-2.17, 0.59), (-1.81, 0.57), (-1.83, 0.51), (-1.37, 0.53), (-1.28, 0.47),
    (-1.19, 0.58), (-1.10, 0.51), (-1.04, 0.63), (-0.98, 0.72), (-0.92, 0.44), (-4.20, 0.97),
    (-1.10, 0.30), (-1.30, 0.25), (-1.00, 0.20), (-1.20, 0.12), (-0.95, 0.10),
]
redB_big = [(-3.01, 3.61), (-1.56, 3.56), (-2.40, 3.26), (-1.44, 3.03), (-2.16, 2.70),
            (-1.38, 2.46), (-1.52, 2.02), (-2.15, 1.56), (-1.53, 1.47), (1.90, 1.88)]
redB_small = [(-1.21, 3.32), (-1.36, 2.90), (-3.14, 2.61), (-2.30, 2.16), (-2.00, 2.17),
              (-1.05, 2.12), (-1.19, 1.94), (-1.45, 1.73), (-1.45, 1.69), (-1.35, 1.63),
              (-1.93, 1.64), (-1.72, 1.49), (-1.93, 1.42), (-1.72, 1.36), (-1.63, 1.34),
              (-1.46, 1.38), (-1.26, 1.33), (-1.19, 1.53), (-1.13, 1.46), (-1.17, 1.43),
              (-1.10, 1.29), (1.23, 2.59), (1.67, 1.49), (2.36, 1.33), (1.08, 1.42), (1.02, 1.28)]
labelsB = [('MMP1', -1.56, 3.56), ('MMP2', -1.05, 2.12), ('MMP3\u2021', -1.45, 1.71), ('IL6', -2.15, 1.56)]


def flatten(rows, extra):
    xs, ys = [], []
    for y, row in rows:
        xs += row
        ys += [y] * len(row)
    for x, y in extra:
        xs.append(x)
        ys.append(y)
    return np.array(xs), np.array(ys)


def volcano(ax, core, fill, flank, grey, big, small, labels, side_text, side_y):
    gx, gy = flatten(core + fill, flank + grey)
    ax.scatter(gx, gy, s=6, color=GREY, linewidths=0, clip_on=False, zorder=2)
    sx, sy = np.array(small).T
    ax.scatter(sx, sy, s=4, color=RED, linewidths=0, clip_on=False, zorder=3)
    bx, by = np.array(big).T
    ax.scatter(bx, by, s=16, color=RED, linewidths=0, clip_on=False, zorder=3)
    for name, x, y in labels:
        ax.annotate(name, (x, y), xytext=(-4, 0), textcoords='offset points',
                    ha='right', va='center', color=RED, fontsize=7.5, fontweight='bold')
    ax.set_xlim(-6, 4)
    ax.set_ylim(0, 5)
    ax.set_xticks([-6, -4, -2, 0, 2, 4])
    ax.set_yticks([0, 1, 2, 3, 4, 5])
    for s in ['top', 'right']:
        ax.spines[s].set_visible(False)
    for s in ['left', 'bottom']:
        ax.spines[s].set_linewidth(1.1)
    ax.tick_params(direction='out', length=6, width=1.1, labelsize=11, pad=4)
    ax.set_xlabel('Difference (Log$_2$FC)', fontsize=11, labelpad=9)
    ax.set_ylabel('-log ($\\it{p}$-value)', fontsize=11, labelpad=8)
    ax.text(1.065, side_y, side_text, transform=ax.transAxes, rotation=90,
            ha='center', va='center', fontsize=10.5, fontweight='bold')


fig = plt.figure(figsize=(6.71, 9.2), dpi=100)
axA = fig.add_axes([0.0969, 0.5913, 0.827, 0.399])
axB = fig.add_axes([0.0969, 0.0804, 0.827, 0.398])

volcano(axA, coreA, fillA, flankA, greyA, redA_big, redA_small, labelsA, 'OCT vs. Ctrl', 0.5)
volcano(axB, coreB, fillB, flankB, greyB, redB_big, redB_small, labelsB, 'OCT vs. Untr', 0.47)

fig.text(0.008, 0.978, 'A', fontsize=13, fontweight='bold', ha='left', va='center')
fig.text(0.008, 0.498, 'B', fontsize=13, fontweight='bold', ha='left', va='center')

fig.savefig('out.png', dpi=100)
